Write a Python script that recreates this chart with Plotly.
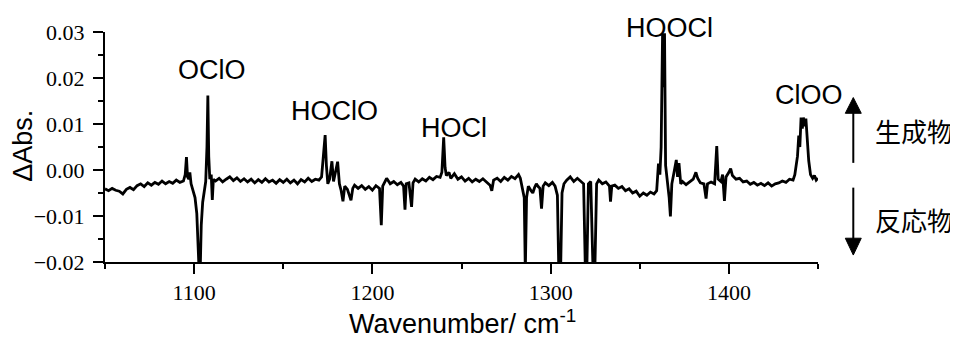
import plotly.graph_objects as go

# ---- data ----
wavenumber = [
    1050, 1052, 1054, 1056, 1058, 1060, 1062, 1064, 1066, 1068, 1070, 1072, 1074, 1076, 1078, 1080,
    1082, 1084, 1086, 1088, 1090, 1092, 1094, 1095, 1095.7, 1096.3, 1097, 1097.6, 1098.3, 1099.5,
    1100.5, 1101.5, 1102.3, 1102.8, 1103.4, 1104.0, 1104.8, 1105.6, 1106.5, 1107.2, 1107.7, 1108.2,
    1108.8, 1109.6, 1110.2, 1110.8, 1112, 1114, 1116, 1118, 1120, 1122, 1124, 1126, 1128, 1130, 1132,
    1134, 1136, 1138, 1140, 1142, 1144, 1146, 1148, 1150, 1152, 1154, 1156, 1158, 1160, 1162, 1164,
    1166, 1168, 1170, 1171.5, 1172.5, 1173.5, 1174.2, 1175, 1176, 1177.3, 1178.2, 1179, 1180.5,
    1181.5, 1182.5, 1183.5, 1184.5, 1186, 1188, 1189, 1190, 1192, 1194, 1196, 1198, 1200, 1202, 1204,
    1205, 1205.8, 1207, 1208, 1210, 1212, 1214, 1216, 1217.5, 1218.3, 1219, 1220.5, 1222, 1222.8,
    1224, 1226, 1228, 1230, 1232, 1234, 1236, 1238, 1239, 1240, 1240.8, 1241.5, 1243, 1244, 1246,
    1248, 1250, 1252, 1254, 1256, 1258, 1260, 1262, 1264, 1266, 1267, 1268, 1270, 1272, 1274, 1276,
    1278, 1280, 1282, 1283, 1285.2, 1285.8, 1286.5, 1287.5, 1289, 1290, 1291, 1292, 1293, 1294,
    1294.9, 1295.8, 1297, 1299, 1301, 1302.5, 1303.8, 1304.6, 1305.6, 1306.4, 1307.5, 1309, 1311,
    1313, 1315, 1317, 1318.5, 1319.5, 1320.3, 1321.2, 1322.5, 1323.8, 1324.8, 1325.8, 1327, 1329,
    1331, 1333, 1333.6, 1334.3, 1336, 1338, 1340, 1342, 1344, 1346, 1348, 1350, 1352, 1354, 1356,
    1358, 1359.5, 1360.5, 1361.3, 1362, 1362.8, 1363.4, 1363.9, 1364.5, 1365.5, 1366.5, 1367.2,
    1368, 1369, 1370.5, 1371.2, 1372, 1373, 1374, 1376, 1378, 1380, 1381.5, 1382.5, 1384, 1386,
    1387.2, 1388, 1390, 1392, 1393.2, 1394, 1395.5, 1396.5, 1397.5, 1398.4, 1400, 1401, 1402, 1404,
    1406, 1408, 1410, 1412, 1414, 1416, 1418, 1420, 1422, 1424, 1426, 1428, 1430, 1432, 1434, 1436,
    1437, 1438.5, 1439.2, 1439.8, 1440.5, 1441.2, 1441.8, 1442.5, 1443.2, 1444, 1444.8, 1445.8,
    1447, 1448, 1449, 1450,
]
delta_abs = [
    -0.0041, -0.0045, -0.0040, -0.0044, -0.0046, -0.0052, -0.0042, -0.0038, -0.0043, -0.0034,
    -0.0030, -0.0036, -0.0028, -0.0033, -0.0027, -0.0031, -0.0024, -0.0030, -0.0025, -0.0029,
    -0.0022, -0.0027, -0.0024, -0.0010, 0.0028, -0.0015, -0.0020, -0.0005, -0.0030, -0.0045,
    -0.0060, -0.0095, -0.0160, -0.0220, -0.0220, -0.0120, -0.0070, -0.0045, -0.0025, 0.0050,
    0.0162, 0.0030, -0.0020, -0.0010, -0.0065, -0.0020, -0.0024, -0.0018, -0.0026, -0.0020,
    -0.0015, -0.0023, -0.0017, -0.0025, -0.0019, -0.0026, -0.0020, -0.0028, -0.0021, -0.0027,
    -0.0019, -0.0026, -0.0022, -0.0029, -0.0021, -0.0027, -0.0020, -0.0028, -0.0022, -0.0030,
    -0.0021, -0.0026, -0.0018, -0.0025, -0.0020, -0.0022, -0.0015, 0.0030, 0.0076, 0.0010,
    -0.0030, -0.0020, 0.0019, -0.0025, -0.0010, 0.0018, -0.0030, -0.0045, -0.0068, -0.0035,
    -0.0042, -0.0066, -0.0040, -0.0033, -0.0040, -0.0034, -0.0042, -0.0036, -0.0044, -0.0034,
    -0.0040, -0.0120, -0.0035, -0.0025, -0.0018, -0.0030, -0.0025, -0.0032, -0.0027, -0.0035,
    -0.0086, -0.0030, -0.0028, -0.0080, -0.0028, -0.0020, -0.0026, -0.0019, -0.0024, -0.0016,
    -0.0021, -0.0014, -0.0016, -0.0005, 0.0071, 0.0005, -0.0012, -0.0005, -0.0018, -0.0008,
    -0.0020, -0.0015, -0.0024, -0.0018, -0.0026, -0.0020, -0.0025, -0.0019, -0.0027, -0.0033,
    -0.0045, -0.0022, -0.0018, -0.0025, -0.0016, -0.0022, -0.0014, -0.0019, -0.0010, -0.0018,
    -0.0060, -0.0220, -0.0060, -0.0035, -0.0045, -0.0050, -0.0038, -0.0030, -0.0036, -0.0040,
    -0.0084, -0.0035, -0.0028, -0.0034, -0.0027, -0.0035, -0.0055, -0.0220, -0.0220, -0.0050,
    -0.0030, -0.0022, -0.0015, -0.0025, -0.0018, -0.0026, -0.0030, -0.0220, -0.0220, -0.0030,
    -0.0025, -0.0220, -0.0220, -0.0030, -0.0022, -0.0030, -0.0026, -0.0035, -0.0069, -0.0035,
    -0.0033, -0.0040, -0.0036, -0.0045, -0.0041, -0.0050, -0.0046, -0.0057, -0.0050, -0.0055,
    -0.0048, -0.0052, -0.0045, 0.0014, -0.0010, 0.0050, 0.0297, 0.0180, 0.0297, 0.0010,
    -0.0020, -0.0060, -0.0101, -0.0030, -0.0010, 0.0022, -0.0015, 0.0015, -0.0030, -0.0025,
    -0.0032, -0.0026, -0.0020, -0.0005, -0.0018, -0.0028, -0.0030, -0.0062, -0.0030, -0.0026,
    -0.0030, 0.0052, -0.0020, -0.0025, -0.0010, -0.0067, -0.0015, -0.0005, 0.0003, -0.0012,
    -0.0020, -0.0018, -0.0026, -0.0024, -0.0031, -0.0027, -0.0033, -0.0029, -0.0034, -0.0028,
    -0.0035, -0.0030, -0.0028, -0.0024, -0.0027, -0.0020, -0.0022, -0.0010, 0.0030, 0.0075,
    0.0050, 0.0114, 0.0090, 0.0114, 0.0095, 0.0112, 0.0060, 0.0020, -0.0010, -0.0018, -0.0012,
    -0.0022, -0.0018,
]

peak_labels = ["OClO", "HOClO", "HOCl", "HOOCl", "ClOO"]
peak_label_x = [1109.8, 1178.6, 1245.6, 1366.5, 1444.9]
peak_label_y = [0.0217, 0.0129, 0.0092, 0.0308, 0.0163]

x_range = [1050, 1450]
y_range = [-0.02, 0.03]
x_title = "Wavenumber/ cm<sup>-1</sup>"
y_title = "ΔAbs."
product_text = "生成物"
reactant_text = "反応物"

# ---- figure ----
fig = go.Figure()
fig.add_trace(go.Scatter(x=wavenumber, y=delta_abs, mode="lines",
                         line=dict(color="black", width=2.8), showlegend=False))

tick_font = dict(family="Liberation Serif", size=22, color="black")
lab_font = dict(family="Liberation Sans, Arial, sans-serif", size=27, color="black")

fig.update_xaxes(range=x_range, showline=True, linecolor="black", linewidth=2,
                 ticks="outside", ticklen=10, tickwidth=2, tickcolor="black",
                 tick0=1000, dtick=100, tickfont=tick_font, showgrid=False, zeroline=False,
                 minor=dict(dtick=50, ticks="outside", ticklen=5, tickwidth=2, tickcolor="black"))
fig.update_yaxes(range=y_range, showline=True, linecolor="black", linewidth=2,
                 ticks="outside", ticklen=10, tickwidth=2, tickcolor="black",
                 tick0=0, dtick=0.01, tickformat=".2f", tickfont=tick_font,
                 ticklabelstandoff=4, showgrid=False, zeroline=False,
                 minor=dict(dtick=0.005, ticks="outside", ticklen=5, tickwidth=2, tickcolor="black"))

for t, xv, yv in zip(peak_labels, peak_label_x, peak_label_y):
    if yv > y_range[1]:
        # labels above the axis top are placed in paper units so they stay visible
        fig.add_annotation(x=xv, y=(yv - y_range[0]) / (y_range[1] - y_range[0]), yref="paper",
                           text=t, showarrow=False, font=lab_font,
                           xanchor="center", yanchor="middle")
    else:
        fig.add_annotation(x=xv, y=yv, text=t, showarrow=False, font=lab_font,
                           xanchor="center", yanchor="middle")

fig.add_annotation(xref="paper", yref="paper", x=-0.115, y=0.505, text=y_title,
                   textangle=-90, showarrow=False, font=lab_font,
                   xanchor="center", yanchor="middle")
fig.add_annotation(xref="paper", yref="paper", x=0.502, y=-0.26, text=x_title,
                   showarrow=False, font=lab_font, xanchor="center", yanchor="middle")

cjk_font = dict(family="Noto Sans CJK JP", size=26, color="black")
fig.add_annotation(xref="paper", yref="paper", x=1.077, y=0.573, text=product_text,
                   showarrow=False, font=cjk_font, xanchor="left", yanchor="middle")
fig.add_annotation(xref="paper", yref="paper", x=1.077, y=0.185, text=reactant_text,
                   showarrow=False, font=cjk_font, xanchor="left", yanchor="middle")

# arrows (paper coordinates)
ax_x = 1.0495
hw = 0.0112
fig.add_shape(type="line", xref="paper", yref="paper", x0=ax_x, x1=ax_x, y0=0.431, y1=0.66,
              line=dict(color="black", width=2))
fig.add_shape(type="path", xref="paper", yref="paper",
              path=f"M {ax_x-hw} 0.6466 L {ax_x+hw} 0.6466 L {ax_x} 0.715 Z",
              fillcolor="black", line=dict(color="black", width=1))
fig.add_shape(type="line", xref="paper", yref="paper", x0=ax_x, x1=ax_x, y0=0.3233, y1=0.09,
              line=dict(color="black", width=2))
fig.add_shape(type="path", xref="paper", yref="paper",
              path=f"M {ax_x-hw} 0.1034 L {ax_x+hw} 0.1034 L {ax_x} 0.0302 Z",
              fillcolor="black", line=dict(color="black", width=1))

# page body has an 8px default margin, so the figure is sized to fit inside the window
fig.update_layout(width=950, height=330, margin=dict(l=97, r=140, t=22, b=76),
                  plot_bgcolor="white", paper_bgcolor="white")

fig.write_html("out.html")
